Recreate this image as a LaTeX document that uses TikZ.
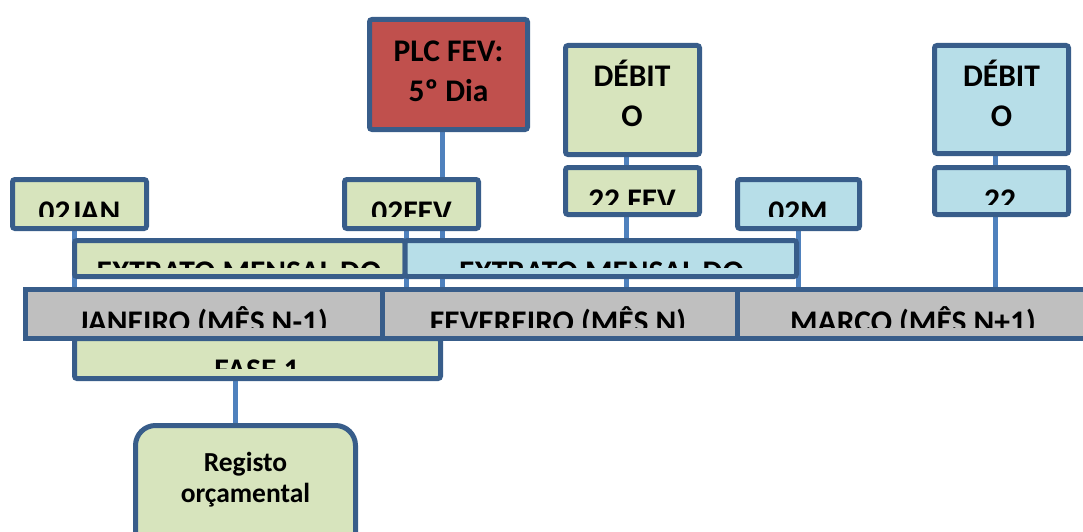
\documentclass[tikz,border=0pt]{standalone}
\usepackage{fontspec}
\setmainfont{Carlito}
\usetikzlibrary{backgrounds}
\definecolor{bord}{HTML}{385D8A}
\definecolor{connc}{HTML}{4F81BD}
\definecolor{gfill}{HTML}{D7E4BD}
\definecolor{bfill}{HTML}{B7DEE8}
\definecolor{rfill}{HTML}{C0504D}
\definecolor{mfill}{HTML}{BFBFBF}
% name, style, x1, y1, x2, y2 (outer edges)
\newcommand\mybox[6]{\node[#2, minimum width={#5-#3-5}, minimum height={#6-#4-5}] (#1) at ({(#3+#5)/2},{(#4+#6)/2}) {};}
% name, cx, base y, clip x1, clip y1, clip x2, clip y2, text
\newcommand\ctext[8]{\begin{scope}\clip (#4,#5) rectangle (#6,#7); \node[lbl, anchor=base] (#1) at (#2,#3) {#8};\end{scope}}
\begin{document}
\begin{tikzpicture}[x=1pt,y=-1pt,
  box/.style={draw=bord, line width=5pt, rounded corners=2.5pt, inner sep=0pt, outer sep=0pt},
  gbox/.style={box, fill=gfill},
  bbox/.style={box, fill=bfill},
  rbox/.style={box, fill=rfill},
  mbox/.style={box, fill=mfill, rounded corners=0pt},
  regbox/.style={box, fill=gfill, rounded corners=20pt},
  conn/.style={draw=connc, line width=5pt},
  lbl/.style={font=\fontsize{31.5}{39}\selectfont\bfseries, inner sep=0pt, text=black},
  slbl/.style={font=\fontsize{27.5}{32}\selectfont\bfseries, inner sep=0pt, text=black},
 ]
\useasboundingbox (0,0) rectangle (1083,532);
\clip (0,0) rectangle (1083,532);

% month bar
\mybox{janm}{mbox}{23}{287}{384.5}{341}
\mybox{fevm}{mbox}{379.5}{287}{739.5}{341}
\mybox{marm}{mbox}{734.5}{287}{1095}{341}

% top boxes
\mybox{plc}{rbox}{367}{17}{530}{132}
\mybox{deb1}{gbox}{563}{43}{702}{157}
\mybox{deb2}{bbox}{932}{43}{1071}{156}
\mybox{fev22}{gbox}{563}{165}{702}{217}
\mybox{mar22}{bbox}{932}{165}{1071}{217}
\mybox{jan}{gbox}{10}{177}{149}{231}
\mybox{fev}{gbox}{342}{177}{481}{231}
\mybox{mar02}{bbox}{735}{177}{862}{231}
\mybox{ext1}{gbox}{72}{238}{407.5}{279}
\mybox{ext2}{bbox}{402.5}{238}{799}{279}
\mybox{fase}{gbox}{72}{336}{443}{381}
\mybox{reg}{regbox}{133}{423}{358}{570}

% connector columns
\coordinate (c1) at (74,0);
\coordinate (c2) at (406,0);
\coordinate (c3) at (442,0);
\coordinate (c4) at (626,0);
\coordinate (c5) at (798,0);
\coordinate (c6) at (995,0);
\coordinate (c7) at (235,0);

% connectors (behind the boxes)
\begin{scope}[on background layer]
\draw[conn] (c1 |- jan.south) -- (c1 |- janm.north);
\draw[conn] (c2 |- fev.south) -- (c2 |- fevm.north);
\draw[conn] (c3 |- plc.south) -- (c3 |- fevm.north);
\draw[conn] (c4 |- deb1.south) -- (c4 |- fev22.north);
\draw[conn] (c4 |- fev22.south) -- (c4 |- fevm.north);
\draw[conn] (c5 |- mar02.south) -- (c5 |- marm.north);
\draw[conn] (c6 |- deb2.south) -- (c6 |- mar22.north);
\draw[conn] (c6 |- mar22.south) -- (c6 |- marm.north);
\draw[conn] (c7 |- fase.south) -- (c7 |- reg.north);
\end{scope}

% full texts
\node[lbl, anchor=base] (plcA) at (448.5,62) {PLC FEV:};
\node[lbl, anchor=base] (plcB) at (448.5,102) {5º Dia};
\node[lbl, anchor=base] (deb1A) at (632,87) {DÉBIT};
\node[lbl, anchor=base] (deb1B) at (632,126) {O};
\node[lbl, anchor=base] (deb2A) at (1001.5,87) {DÉBIT};
\node[lbl, anchor=base] (deb2B) at (1001.5,126) {O};
\node[slbl, anchor=base] (regA) at (245.5,471) {Registo};
\node[slbl, anchor=base] (regB) at (245.5,502) {orçamental};

% clipped texts
\ctext{janT}{79.5}{222}{14}{181}{145}{216}{02JAN}
\ctext{fevT}{411.5}{222}{346}{181}{477}{216}{02FEV}
\ctext{fev22T}{632}{210}{567}{169}{698}{204}{22 FEV}
\ctext{mar02T}{798}{222}{739}{181}{858}{216}{02M}
\ctext{mar22T}{1000}{210}{936}{169}{1067}{204}{22}
\ctext{ext1T}{239}{282}{76}{242}{403}{267}{EXTRATO MENSAL DO}
\ctext{ext2T}{601.5}{282}{409}{242}{795}{267}{EXTRATO MENSAL DO}
\ctext{janmT}{203}{332}{27}{291}{380}{327}{JANEIRO (MÊS N-1)}
\ctext{fevmT}{558}{332}{384}{291}{735}{327}{FEVEREIRO (MÊS N)}
\ctext{marmT}{913}{332}{739}{291}{1083}{327}{MARÇO (MÊS N+1)}
\ctext{faseT}{257}{380}{76}{342}{439}{368}{FASE 1}
\end{tikzpicture}
\end{document}
